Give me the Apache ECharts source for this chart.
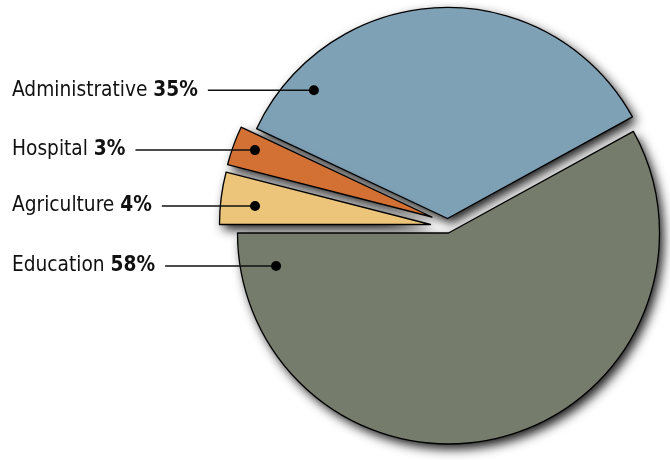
<!DOCTYPE html>
<html>
<head>
<meta charset="utf-8">
<script src="https://cdn.jsdelivr.net/npm/echarts@6/dist/echarts.min.js"></script>
<style>
  html, body { margin: 0; padding: 0; background: #fff; }
  #chart { width: 670px; height: 460px; }
</style>
</head>
<body>
<div id="chart"></div>
<script>
// Budget share by sector, listed counter-clockwise from 9 o'clock
const categories = ['Education', 'Administrative', 'Hospital', 'Agriculture'];
const shares = [58, 35, 3, 4];

// Styling / layout
const sliceColors = ['#767c6c', '#7fa1b6', '#d37134', '#ecc57a'];
const pieCenter = [448.5, 233];
const pieRadius = 211;
const startAngle = 180;
// how far each wedge is pulled away from the pie centre (px)
const sliceShift = [[0, 0], [-1, -14.5], [-16.5, -16], [-18, -8.5]];
// where each label's leader dot sits inside its wedge: [fraction of sweep, fraction of radius]
const dotAnchor = [[0.052, 0.832], [0.852, 0.878], [0.417, 0.897], [0.583, 0.836]];
// paint order so each wedge covers the shadow of the one above it
const drawOrder = [1, 2, 3, 0];

const FONT = '"DejaVu Sans Condensed", "Liberation Sans Narrow", "Noto Sans", sans-serif';
const FONT_SIZE = 20.7;

const chart = echarts.init(document.getElementById('chart'), null, { renderer: 'canvas' });

const total = shares.reduce((a, b) => a + b, 0);

const hidden = { color: 'rgba(0,0,0,0)', borderWidth: 0, shadowBlur: 0 };

// one wedge, either its shaded fill or its outline
function sliceSeries(idx, outline) {
  return {
    type: 'pie',
    center: [pieCenter[0] + sliceShift[idx][0], pieCenter[1] + sliceShift[idx][1]],
    radius: pieRadius,
    startAngle: startAngle,
    clockwise: false,
    silent: true,
    animation: false,
    avoidLabelOverlap: false,
    label: { show: false },
    labelLine: { show: false },
    emphasis: { disabled: true },
    data: categories.map((name, j) => ({
      name: name,
      value: shares[j],
      itemStyle: j !== idx ? hidden : (outline ? {
        color: 'rgba(0,0,0,0)',
        borderColor: '#000',
        borderWidth: 1.3,
        shadowBlur: 0
      } : {
        color: sliceColors[j],
        borderWidth: 0,
        shadowBlur: 11,
        shadowOffsetX: 4,
        shadowOffsetY: 5,
        shadowColor: 'rgba(0,0,0,0.9)'
      })
    }))
  };
}

// measure label text so the leader line starts just after it
const measureCtx = document.createElement('canvas').getContext('2d');
function textWidth(str, weight) {
  measureCtx.font = weight + ' ' + FONT_SIZE + 'px ' + FONT;
  return measureCtx.measureText(str).width;
}

const graphics = [];
let acc = 0;
categories.forEach((name, i) => {
  const sweep = shares[i] / total * 360;
  const a0 = startAngle + acc / total * 360;
  acc += shares[i];
  const ang = (a0 + dotAnchor[i][0] * sweep) * Math.PI / 180;
  const r = dotAnchor[i][1] * pieRadius;
  const cx = pieCenter[0] + sliceShift[i][0];
  const cy = pieCenter[1] + sliceShift[i][1];
  const dx = cx + r * Math.cos(ang);
  const dy = cy - r * Math.sin(ang);

  const pct = shares[i] + '%';
  const textX = 12;
  const w = textWidth(name + ' ', 'normal') + textWidth(pct, 'bold');

  graphics.push({
    type: 'text',
    x: textX,
    y: dy,
    z: 100,
    style: {
      text: '{n|' + name + ' }{p|' + pct + '}',
      verticalAlign: 'middle',
      align: 'left',
      rich: {
        n: { fontFamily: FONT, fontSize: FONT_SIZE, fontWeight: 'normal', fill: '#111' },
        p: { fontFamily: FONT, fontSize: FONT_SIZE, fontWeight: 'bold', fill: '#111' }
      }
    }
  });
  graphics.push({
    type: 'line',
    z: 100,
    shape: { x1: textX + w + 10, y1: dy, x2: dx, y2: dy },
    style: { stroke: '#111', lineWidth: 1.5 }
  });
  graphics.push({
    type: 'circle',
    z: 101,
    shape: { cx: dx, cy: dy, r: 5 },
    style: { fill: '#000' }
  });
});

const series = [];
drawOrder.forEach(idx => {
  series.push(sliceSeries(idx, false));
  series.push(sliceSeries(idx, true));
});

chart.setOption({
  backgroundColor: '#ffffff',
  animation: false,
  series: series,
  graphic: { elements: graphics }
});
</script>
</body>
</html>
